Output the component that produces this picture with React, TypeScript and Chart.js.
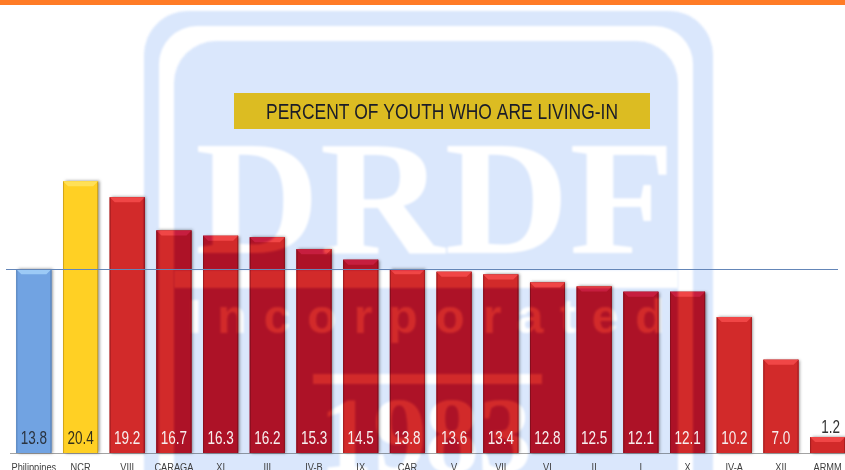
import React, { useEffect, useRef } from "react";
import { Chart, registerables } from "chart.js";

Chart.register(...registerables);

const categories = ["Philippines", "NCR", "VIII", "CARAGA", "XI", "III", "IV-B", "IX", "CAR", "V", "VII", "VI", "II", "I", "X", "IV-A", "XII", "ARMM"];
const percentLivingIn = [13.8, 20.4, 19.2, 16.7, 16.3, 16.2, 15.3, 14.5, 13.8, 13.6, 13.4, 12.8, 12.5, 12.1, 12.1, 10.2, 7.0, 1.2];
const nationalAverage = 13.8;
const titleText = "PERCENT OF YOUTH WHO ARE LIVING-IN";

const SANS = '"Liberation Sans", Arial, sans-serif';
const WIDTH = 851;
const HEIGHT = 470;

type Tone = { fill: string; top: string; edge: string; label: string };
const BLUE: Tone = { fill: "#71a3e2", top: "#9ccaf6", edge: "#5a84bb", label: "#2b3440" };
const YELLOW: Tone = { fill: "#ffd024", top: "#ffe058", edge: "#d2a51a", label: "#33301c" };
const RED: Tone = { fill: "#d22a2a", top: "#f04646", edge: "#a31d20", label: "#f7eeee" };
const toneOf = (i: number) => (i === 0 ? BLUE : i === 1 ? YELLOW : RED);

function rr(ctx: CanvasRenderingContext2D, x: number, y: number, w: number, h: number, r: number) {
  ctx.beginPath();
  ctx.roundRect(x, y, w, h, r);
  ctx.fill();
}

function buildWatermark(blue: string): HTMLCanvasElement {
  const c = document.createElement("canvas");
  c.width = WIDTH;
  c.height = HEIGHT;
  const ctx = c.getContext("2d")!;
  ctx.fillStyle = "#fff";
  ctx.fillRect(0, 0, WIDTH, HEIGHT);
  (ctx as any).filter = "blur(1px)";
  ctx.fillStyle = blue;
  rr(ctx, 144, 11, 569, 600, 44);
  ctx.fillStyle = "#fff";
  rr(ctx, 159, 26, 534, 600, 38);
  ctx.fillStyle = blue;
  rr(ctx, 174, 41, 504, 600, 42);
  ctx.fillStyle = "#fff";
  ctx.fillRect(174, 270, 504, 18);
  ctx.textBaseline = "alphabetic";
  ctx.textAlign = "left";
  ctx.save();
  ctx.translate(195, 253);
  ctx.scale(1.06, 1);
  ctx.font = 'bold 163px "Liberation Serif", serif';
  ctx.fillText("DRDF", 0, 0);
  ctx.restore();
  ctx.textAlign = "center";
  ctx.font = `bold 48px ${SANS}`;
  const word = "Incorporated";
  const wordX = [195, 232, 277, 322, 363, 403, 450, 492, 530, 568, 605, 650];
  word.split("").forEach((ch, i) => ctx.fillText(ch, wordX[i], 333));
  ctx.fillRect(313, 374, 229, 10);
  ctx.font = 'bold 108px "Liberation Serif", serif';
  ctx.fillText("1", 346, 472);
  ctx.fillText("9", 400, 472);
  ctx.fillText("8", 452, 472);
  ctx.fillText("3", 505, 472);
  return c;
}

let watermark: HTMLCanvasElement | null = null;
let barTint: HTMLCanvasElement | null = null;

const decorPlugin = {
  id: "decor",
  beforeDatasetsDraw(chart: any) {
    const ctx: CanvasRenderingContext2D = chart.ctx;
    const meta = chart.getDatasetMeta(0);
    ctx.save();
    meta.data.forEach((bar: any, i: number) => {
      const w = bar.width;
      ctx.shadowColor = "rgba(40,40,40,0.55)";
      ctx.shadowBlur = 3;
      ctx.shadowOffsetX = 1.5;
      ctx.shadowOffsetY = 0;
      ctx.fillStyle = toneOf(i).edge;
      ctx.fillRect(bar.x - w / 2, bar.y, w, bar.base - bar.y);
    });
    ctx.restore();
  },
  afterDatasetsDraw(chart: any) {
    const ctx: CanvasRenderingContext2D = chart.ctx;
    const meta = chart.getDatasetMeta(0);
    const yScale = chart.scales.y;
    const xScale = chart.scales.x;
    ctx.save();
    meta.data.forEach((bar: any, i: number) => {
      const tone = toneOf(i);
      const l = bar.x - bar.width / 2;
      const r = bar.x + bar.width / 2;
      const t = bar.y;
      ctx.fillStyle = tone.edge;
      ctx.fillRect(l, t, 1, bar.base - t);
      ctx.fillRect(r - 1, t, 1, bar.base - t);
      ctx.fillStyle = tone.top;
      ctx.beginPath();
      ctx.moveTo(l, t);
      ctx.lineTo(r, t);
      ctx.lineTo(r - 5, t + 5);
      ctx.lineTo(l + 5, t + 5);
      ctx.closePath();
      ctx.fill();
    });
    if (!watermark) watermark = buildWatermark("#dae7fc");
    if (!barTint) barTint = buildWatermark("#f778e8");
    ctx.globalCompositeOperation = "multiply";
    ctx.drawImage(watermark, 0, 0);
    ctx.save();
    ctx.beginPath();
    meta.data.forEach((bar: any, i: number) => {
      if (i < 2) return;
      ctx.rect(bar.x - bar.width / 2, bar.y, bar.width, bar.base - bar.y);
    });
    ctx.clip();
    ctx.drawImage(barTint, 0, 0);
    ctx.restore();
    ctx.globalCompositeOperation = "source-over";

    const avgY = Math.round(yScale.getPixelForValue(nationalAverage)) + 0.5;
    ctx.strokeStyle = "#6486b8";
    ctx.lineWidth = 1;
    ctx.beginPath();
    ctx.moveTo(6, avgY);
    ctx.lineTo(838, avgY);
    ctx.stroke();

    ctx.textAlign = "center";
    ctx.textBaseline = "alphabetic";
    meta.data.forEach((bar: any, i: number) => {
      const value = percentLivingIn[i];
      const small = value < 5;
      ctx.save();
      ctx.translate(bar.x + (small ? 3 : 0), small ? bar.y - 4 : bar.base - 9);
      ctx.scale(0.75, 1);
      ctx.font = `18px ${SANS}`;
      ctx.fillStyle = small ? "#333" : toneOf(i).label;
      ctx.fillText(value.toFixed(1), 0, 0);
      ctx.restore();
    });

    categories.forEach((label, i) => {
      ctx.save();
      ctx.translate(xScale.getPixelForTick(i), 470.5);
      ctx.scale(0.84, 1);
      ctx.font = `11px ${SANS}`;
      ctx.fillStyle = "#3d3d3d";
      ctx.fillText(label, 0, 0);
      ctx.restore();
    });

    ctx.fillStyle = "#ff7b26";
    ctx.fillRect(0, 0, WIDTH, 5);
    ctx.fillStyle = "#dcbc22";
    ctx.fillRect(234, 93, 416, 36);
    ctx.fillStyle = "#1a1c28";
    ctx.font = `22px ${SANS}`;
    const measured = ctx.measureText(titleText).width;
    ctx.save();
    ctx.translate(442, 119);
    ctx.scale(352 / measured, 1);
    ctx.fillText(titleText, 0, 0);
    ctx.restore();
    ctx.restore();
  },
};

export default function App() {
  const ref = useRef<HTMLCanvasElement>(null);
  useEffect(() => {
    const chart: any = new Chart(ref.current!, {
      type: "bar",
      data: {
        labels: categories,
        datasets: [
          {
            data: percentLivingIn,
            backgroundColor: percentLivingIn.map((_, i) => toneOf(i).fill),
            borderWidth: 0,
            barPercentage: 0.75,
            categoryPercentage: 1,
          },
        ],
      },
      options: {
        responsive: false,
        animation: false,
        layout: { padding: { left: 10.5, right: 0, top: 0, bottom: 0 } },
        plugins: { legend: { display: false }, tooltip: { enabled: false }, title: { display: false } },
        scales: {
          x: {
            grid: { display: false, drawTicks: false },
            border: { display: true, color: "#a3a3a3", width: 1 },
            afterFit(scale: any) {
              scale.height = 17;
            },
            ticks: { display: false, autoSkip: false },
          },
          y: { display: false, min: 0, max: 34 },
        },
      },
      plugins: [decorPlugin],
    } as any);
    return () => chart.destroy();
  }, []);
  return (
    <div style={{ position: "fixed", inset: 0, overflow: "hidden", background: "#fff" }}>
      <canvas ref={ref} width={WIDTH} height={HEIGHT} style={{ display: "block" }} />
    </div>
  );
}
